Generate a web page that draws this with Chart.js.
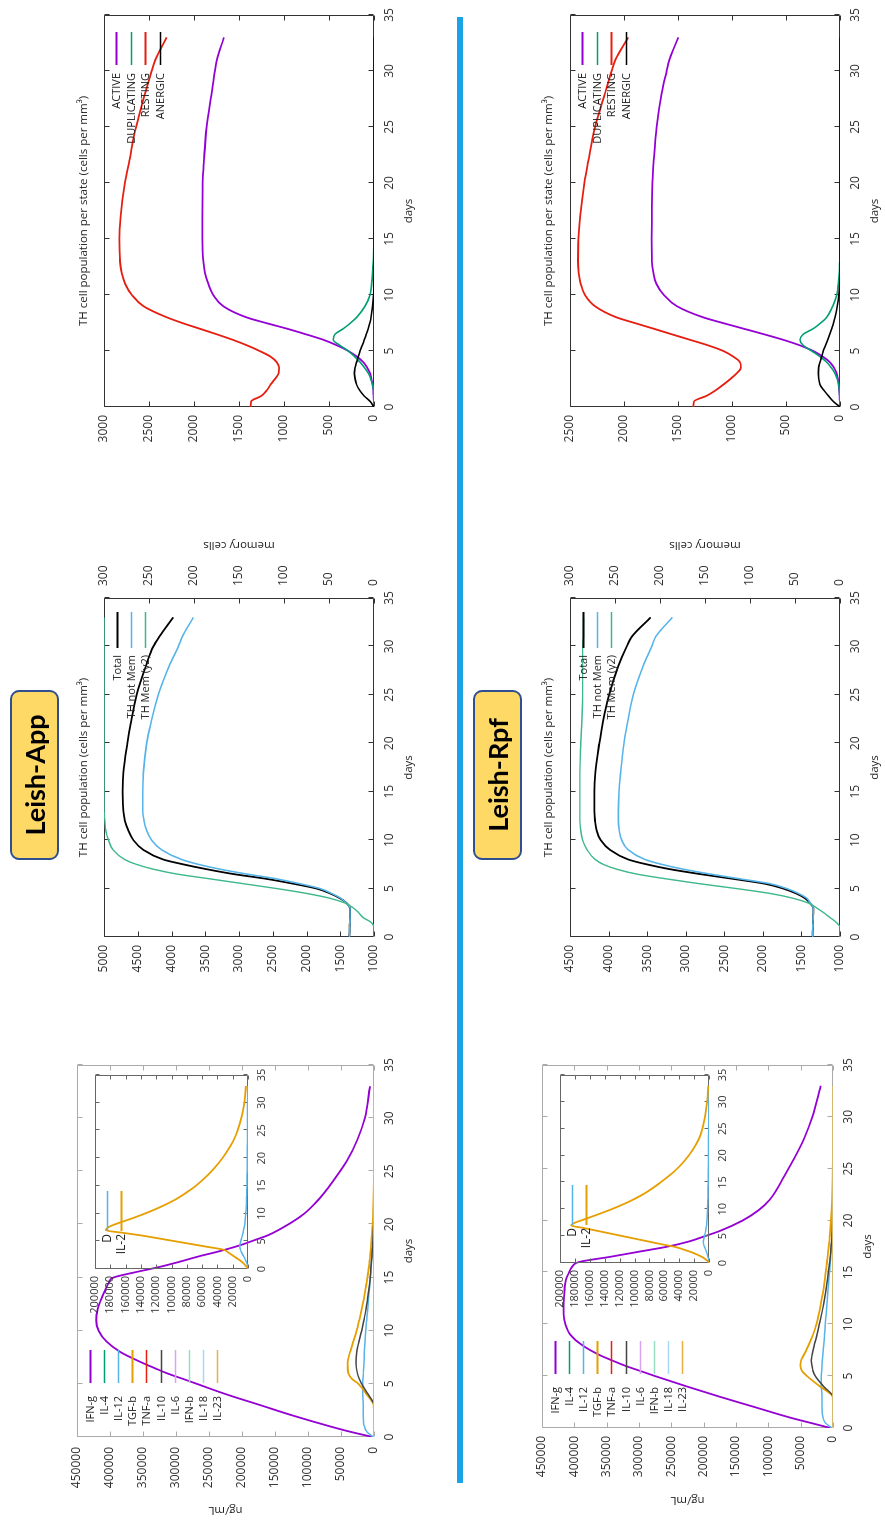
<!DOCTYPE html>
<html><head><meta charset="utf-8">
<script src="https://cdn.jsdelivr.net/npm/chart.js@4.4.1/dist/chart.umd.min.js"></script>
<style>
html,body{margin:0;padding:0;background:#fff;overflow:hidden;}
body{width:885px;height:1520px;position:relative;}
#land{position:absolute;left:0;top:0;width:1520px;height:885px;transform-origin:0 0;transform:translate(0px,1520px) rotate(-90deg);background:#fff;}
#land canvas{position:absolute;left:0;top:0;}
.tag{position:absolute;left:660px;width:166px;height:45px;background:#FFD966;border:2px solid #2F4F8F;border-radius:9px;font:bold 27px Lato, sans-serif;color:#000;display:flex;align-items:center;justify-content:center;}
#sep{position:absolute;left:37px;top:457px;width:1466px;height:6px;background:#1AA3E6;}
</style></head><body>
<div id="land">
<canvas id="cytApp" width="1520" height="885"></canvas>
<canvas id="inApp" width="1520" height="885"></canvas>
<canvas id="midApp" width="1520" height="885"></canvas>
<canvas id="stApp" width="1520" height="885"></canvas>
<canvas id="cytRpf" width="1520" height="885"></canvas>
<canvas id="inRpf" width="1520" height="885"></canvas>
<canvas id="midRpf" width="1520" height="885"></canvas>
<canvas id="stRpf" width="1520" height="885"></canvas>
<div class="tag" style="top:10px">Leish-App</div>
<div class="tag" style="top:473px">Leish-Rpf</div>
<div id="sep"></div>
</div>
<script>
// ---------- DATA ----------
const daysTH = [0,0.5,1,1.5,2,2.5,3,3.5,4,4.5,5,5.5,6,6.5,7,7.5,8,9,10,11,12,13,15,17,20,22,25,28,30,31,33];
// TH cell population per state – Leish-App
const activeApp = [0,2,5,8,15,28,44,75,118,190,285,410,563,760,970,1200,1415,1674,1785,1841,1878,1896,1907,1908,1905,1890,1859,1804,1767,1745,1667];
const duplApp   = [0,1,3,6,15,35,63,105,155,215,285,378,452,433,340,260,193,100,44,26,15,8,2,0,0,0,0,0,0,0,0];
const restApp   = [1370,1365,1250,1190,1150,1100,1060,1055,1080,1150,1270,1410,1570,1750,1940,2130,2300,2560,2690,2765,2805,2822,2830,2815,2767,2718,2644,2544,2470,2430,2304];
const anerApp   = [0,44,111,160,193,210,218,211,193,175,155,130,107,85,63,47,33,15,5,2,0,0,0,0,0,0,0,0,0,0,0];
// TH cell population per state – Leish-Rpf
const activeRpf = [0,2,4,7,12,20,31,55,93,160,247,370,525,705,895,1085,1265,1510,1630,1700,1728,1741,1744,1742,1738,1725,1698,1651,1605,1580,1497];
const duplRpf   = [0,1,3,6,12,25,46,80,123,185,262,340,370,340,247,180,123,68,31,15,6,3,0,0,0,0,0,0,0,0,0];
const restRpf   = [1358,1352,1235,1150,1080,1015,957,917,926,988,1080,1220,1389,1560,1728,1900,2068,2268,2361,2401,2420,2426,2423,2407,2367,2330,2268,2176,2114,2080,1960];
const anerRpf   = [0,62,108,150,185,196,200,198,185,170,154,134,114,95,77,60,46,25,10,3,0,0,0,0,0,0,0,0,0,0,0];
// TH cell population – Leish-App
const totalApp  = [1365,1362,1360,1358,1356,1355,1356,1405,1504,1652,1849,2195,2590,3084,3479,3825,4121,4417,4565,4639,4689,4713,4723,4713,4654,4605,4516,4378,4269,4180,3973];
const notMemApp = [1365,1362,1360,1358,1356,1355,1356,1410,1494,1630,1800,2100,2442,2886,3281,3602,3849,4146,4294,4368,4407,4427,4427,4417,4368,4308,4195,4032,3899,3840,3676];
const memApp    = [0,0,0,3,12,17,23,32,49,75,108,145,182,219,245,264,277,290,295,298,299,300,300,300,300,300,300,300,300,300,300];
// TH cell population – Leish-Rpf
const totalRpf  = [1354,1354,1352,1350,1348,1346,1346,1389,1454,1570,1735,1972,2383,2815,3204,3506,3744,3981,4102,4154,4176,4185,4185,4172,4120,4077,3994,3873,3765,3700,3454];
const notMemRpf = [1354,1354,1352,1350,1348,1346,1346,1385,1432,1540,1691,1907,2296,2685,3031,3312,3528,3744,3830,3861,3873,3873,3865,3843,3800,3757,3679,3549,3441,3390,3173];
const memRpf    = [0,0,0,4,11,18,26,35,52,78,115,156,193,226,248,263,272,281,286,288,289,289,289,289,288,287,286,286,286,285,285];
// Cytokines (ng/mL)
const daysCyt = [0,0.5,1,2,3,4,5,5.5,6,6.5,7,8,9,10,11,12,13,14,14.5,15,15.5,16,16.5,17,17.5,18,18.5,19,20,21,22,23,24,26,28,30,33];
const ifngApp = [2000,36300,66600,122000,172500,223000,268400,291000,313800,333000,351600,384400,405600,417200,420800,418700,413200,406000,402000,395000,362000,325000,294000,265000,233000,205000,182000,160000,130000,106000,89000,75000,63000,41000,25000,14000,6000];
const tgfbApp = [0,0,0,0,500,11000,23700,33800,38800,39800,39900,36300,31300,26200,22300,18700,15500,12600,11300,10000,8900,7600,6800,6000,5200,4500,3800,3200,2000,1300,800,500,300,100,0,0,0];
const il10App = [0,0,0,0,0,8600,18700,22500,25200,26700,27200,26200,22700,18700,15300,12100,9700,7600,6600,5800,5100,4500,3800,3200,2700,2000,1600,1200,500,300,0,0,0,0,0,0,0];
const il12App = [1000,11000,14600,16100,16100,17200,17200,16700,16100,15600,15100,14600,13600,12600,11100,9600,8300,7000,6400,5800,5100,4500,4000,3500,3000,2500,2000,1600,1000,600,300,100,0,0,0,0,0];
const ifngRpf = [4000,35000,66000,120100,174200,225800,274800,298000,321200,341000,359800,388200,406200,413900,416500,416500,415500,414000,412000,408000,404000,393000,345000,300000,255000,222000,198000,175000,140000,115000,98000,87000,78000,60000,44000,32000,19000];
const tgfbRpf = [0,0,0,0,500,20000,40200,47900,50500,49500,45400,37600,30900,25800,22000,18600,15800,13400,12300,11300,10300,9300,8400,7500,6600,5700,5000,4300,3100,2200,1500,1000,600,200,0,0,0];
const il10Rpf = [0,0,0,0,0,14400,27300,31000,32500,33500,32500,28900,24700,21100,17600,14400,11700,9300,8200,7200,6300,5000,4300,3600,3000,2000,1600,1200,500,300,0,0,0,0,0,0,0];
const il12Rpf = [1500,11900,15500,17000,17000,18000,18000,17500,17000,16500,16000,14400,13100,11900,10600,9300,8000,6700,6000,5400,4700,4100,3500,3000,2500,2000,1600,1200,800,400,200,100,0,0,0,0,0];
// Cytokines that stay at zero over the whole run
const daysFlat = [0,33];
const flatZero = [0,0];
// Inset: D and IL-2
const daysIn = [0,0.5,1,1.5,2,2.5,3,3.5,4,4.5,5,5.5,6,6.5,7,7.5,8,9,10,11,12,13,14,15,17,19,21,23,25,28,30,33];
const il2App = [0,2500,5600,10000,15200,20500,26000,32500,53300,74200,95000,116000,137000,162000,186000,183000,175000,154300,134800,117400,102200,89100,78300,68300,52200,39100,28300,19600,13500,7400,4800,2600];
const dApp   = [0,500,1500,3000,4500,6500,8500,10000,10900,10500,9500,8500,7500,6500,5800,5000,4400,3500,2800,2300,2000,1800,1600,1400,1200,1000,900,800,700,600,500,400];
const il2Rpf = [0,3000,7600,15000,23300,34000,45600,63900,81200,98500,115800,133100,150400,167700,185000,180000,170000,150000,131000,114000,99000,86000,75000,65000,47000,33000,22000,14000,9000,4500,2500,1000];
const dRpf   = [0,500,1200,2200,3200,4500,6000,7200,7600,7000,6000,5200,4500,4000,3500,3100,2800,2300,2000,1700,1500,1300,1200,1100,900,800,700,600,500,400,400,300];
// Tick settings
const daysTicks = {min:0, max:35, step:5};

// ---------- RENDERING ----------
const FONT = "'Open Sans', 'DejaVu Sans', sans-serif";
const W = 1520, H = 885, YW = 64, Y2W = 44, XH = 32;

function ser(label, color, xs, ys, width, axis) {
  const d = {label, borderColor: color, backgroundColor: color, borderWidth: width || 1.5,
    data: xs.map((x, i) => ({x, y: ys[i]})), pointRadius: 0, fill: false,
    cubicInterpolationMode: 'monotone'};
  if (axis) d.yAxisID = axis;
  return d;
}

function lin(min, max, step, pad, size, extra, fixed) {
  return Object.assign({
    type: 'linear', min, max,
    grid: {display: false, drawTicks: false}, border: {display: false},
    ticks: {stepSize: step, padding: pad, color: '#333', autoSkip: false, maxRotation: 0, minRotation: 0,
      font: {family: FONT, size}, callback: v => String(v)},
    afterFit: s => { if (s.isHorizontal()) s.height = fixed; else s.width = fixed; }
  }, extra || {});
}

const gp = {
  id: 'gp',
  beforeDatasetsDraw(chart, args, o) {
    const {ctx, chartArea: a} = chart;
    const L = Math.round(a.left) + 0.5, R = Math.round(a.right) - 0.5, T = Math.round(a.top) + 0.5, B = Math.round(a.bottom) - 0.5;
    ctx.save();
    ctx.strokeStyle = o.frame; ctx.lineWidth = 1;
    ctx.beginPath();
    ctx.rect(L, T, R - L, B - T);
    const tl = o.tick, xs = chart.scales.x, ys = chart.scales.y, y2 = chart.scales.y2;
    xs.ticks.forEach(t => { const p = Math.round(xs.getPixelForValue(t.value)) + 0.5;
      ctx.moveTo(p, B); ctx.lineTo(p, B - tl); ctx.moveTo(p, T); ctx.lineTo(p, T + tl); });
    ys.ticks.forEach(t => { const p = Math.round(ys.getPixelForValue(t.value)) + 0.5;
      ctx.moveTo(L, p); ctx.lineTo(L + tl, p); if (!y2) { ctx.moveTo(R, p); ctx.lineTo(R - tl, p); } });
    if (y2) y2.ticks.forEach(t => { const p = Math.round(y2.getPixelForValue(t.value)) + 0.5;
      ctx.moveTo(R, p); ctx.lineTo(R - tl, p); });
    ctx.stroke();
    ctx.restore();
  },
  afterDraw(chart, args, o) {
    const {ctx, chartArea: a} = chart;
    ctx.save();
    const cx = (a.left + a.right) / 2, cy = (a.top + a.bottom) / 2;
    ctx.fillStyle = '#222'; ctx.textBaseline = 'middle';
    const lg = o.legend;
    if (lg) {
      ctx.font = lg.size + 'px ' + FONT;
      chart.data.datasets.forEach((d, i) => {
        const y = Math.round(a.top + lg.top + i * lg.step) + 0.5;
        const base = lg.from === 'right' ? a.right : a.left;
        ctx.textAlign = 'right'; ctx.fillStyle = '#222';
        ctx.fillText(d.label, base + lg.tx, y);
        ctx.strokeStyle = d.borderColor; ctx.lineWidth = d.borderWidth;
        ctx.beginPath(); ctx.moveTo(base + lg.x1, y); ctx.lineTo(base + lg.x2, y); ctx.stroke();
      });
    }
    ctx.fillStyle = '#222'; ctx.textAlign = 'center';
    ctx.font = '11.5px ' + FONT;
    if (o.title) ctx.fillText(o.title, cx, a.top + o.titleDy);
    if (o.xTitle) ctx.fillText(o.xTitle, cx, a.bottom + 35);
    const rot = (txt, x) => { ctx.save(); ctx.translate(x, cy); ctx.rotate(-Math.PI / 2); ctx.fillText(txt, 0, 0); ctx.restore(); };
    if (o.yTitle) rot(o.yTitle, a.left + o.yTitleDx);
    if (o.y2Title) rot(o.y2Title, a.right + o.y2TitleDx);
    ctx.restore();
  }
};

function make(id, box, cfg) {
  const scales = {
    x: lin(daysTicks.min, daysTicks.max, daysTicks.step, cfg.xPad, cfg.xFont, null, XH),
    y: lin(cfg.ymin, cfg.ymax, cfg.ystep, cfg.yPad, cfg.yFont, {position: 'left'}, YW)
  };
  if (cfg.y2) scales.y2 = lin(0, 300, 50, 12, 12, {position: 'right'}, Y2W);
  const n = cfg.datasets.length;
  cfg.datasets.forEach((d, i) => { d.order = n - i; });
  new Chart(document.getElementById(id), {
    type: 'line',
    data: {datasets: cfg.datasets},
    options: {
      responsive: false, animation: false, events: [], devicePixelRatio: 1,
      layout: {padding: {left: box.l - YW, right: W - box.r - (cfg.y2 ? Y2W : 0), top: box.t, bottom: H - box.b - XH}},
      scales,
      plugins: {legend: {display: false}, tooltip: {enabled: false}, title: {display: false}, gp: cfg.gp}
    },
    plugins: [gp]
  });
}

const C = {purple:'#9400D3', green:'#009E73', blue:'#56B4E9', orange:'#E69F00', red:'#E51E10', black:'#000000'};

function cytSets(ifng, il12, tgfb, il10) {
  return [
    ser('IFN-g', C.purple, daysCyt, ifng, 1.8),
    ser('IL-4', C.green, daysFlat, flatZero),
    ser('IL-12', C.blue, daysCyt, il12),
    ser('TGF-b', C.orange, daysCyt, tgfb, 1.8),
    ser('TNF-a', C.red, daysFlat, flatZero),
    ser('IL-10', '#444444', daysCyt, il10),
    ser('IL-6', '#D9A2F2', daysFlat, flatZero),
    ser('IFN-b', '#98DCC4', daysFlat, flatZero),
    ser('IL-18', '#A8D8F5', daysFlat, flatZero),
    ser('IL-23', '#E8AE48', daysFlat, flatZero)
  ];
}
const cytLegend = {from: 'left', tx: 41, x1: 54, x2: 87, top: 13, step: 14.1, size: 11};
const inLegend = {from: 'left', tx: 35, x1: 38, x2: 78, top: 12, step: 14, size: 12};
const stLegend = {from: 'right', tx: -58, x1: -50, x2: -17, top: 12, step: 14.7, size: 11};
const midLegend = {from: 'right', tx: -57, x1: -50, x2: -14, top: 13, step: 14, size: 11};

// Leish-App row
make('cytApp', {l: 83, r: 455, t: 77, b: 374}, {ymin: 0, ymax: 450000, ystep: 50000, yPad: 10, yFont: 12, xPad: 8, xFont: 12,
  datasets: cytSets(ifngApp, il12App, tgfbApp, il10App),
  gp: {frame: '#aaaaaa', tick: 5, legend: cytLegend, xTitle: 'days', yTitle: 'ng/mL', yTitleDx: -73}});
make('inApp', {l: 251, r: 445, t: 95, b: 248}, {ymin: 0, ymax: 200000, ystep: 20000, yPad: 7, yFont: 11, xPad: 7, xFont: 11,
  datasets: [ser('D', C.blue, daysIn, dApp), ser('IL-2', C.orange, daysIn, il2App, 1.8)],
  gp: {frame: '#666666', tick: 4, legend: inLegend}});
make('midApp', {l: 583, r: 922, t: 104, b: 374}, {ymin: 1000, ymax: 5000, ystep: 500, yPad: 8, yFont: 12, xPad: 8, xFont: 12, y2: true,
  datasets: [ser('Total', C.black, daysTH, totalApp, 1.8), ser('TH not Mem', C.blue, daysTH, notMemApp, 1.6), ser('TH Mem (y2)', '#3DB88A', daysTH, memApp, 1.4, 'y2')],
  gp: {frame: '#333333', tick: 5, legend: midLegend, title: 'TH cell population (cells per mm\u00B3)', titleDy: -20, xTitle: 'days', y2Title: 'memory cells', y2TitleDx: 53}});
make('stApp', {l: 1113, r: 1505, t: 104, b: 374}, {ymin: 0, ymax: 3000, ystep: 500, yPad: 8, yFont: 12, xPad: 8, xFont: 12,
  datasets: [ser('ACTIVE', C.purple, daysTH, activeApp, 1.8), ser('DUPLICATING', C.green, daysTH, duplApp, 1.6), ser('RESTING', C.red, daysTH, restApp, 1.8), ser('ANERGIC', C.black, daysTH, anerApp, 1.6)],
  gp: {frame: '#333333', tick: 5, legend: stLegend, title: 'TH cell population per state (cells per mm\u00B3)', titleDy: -20, xTitle: 'days'}});

// Leish-Rpf row
make('cytRpf', {l: 92, r: 455, t: 542, b: 833}, {ymin: 0, ymax: 450000, ystep: 50000, yPad: 8, yFont: 12, xPad: 8, xFont: 12,
  datasets: cytSets(ifngRpf, il12Rpf, tgfbRpf, il10Rpf),
  gp: {frame: '#aaaaaa', tick: 5, legend: cytLegend, xTitle: 'days', yTitle: 'ng/mL', yTitleDx: -72}});
make('inRpf', {l: 257, r: 445, t: 560, b: 709}, {ymin: 0, ymax: 200000, ystep: 20000, yPad: 7, yFont: 11, xPad: 7, xFont: 11,
  datasets: [ser('D', C.blue, daysIn, dRpf), ser('IL-2', C.orange, daysIn, il2Rpf, 1.8)],
  gp: {frame: '#666666', tick: 4, legend: inLegend}});
make('midRpf', {l: 583, r: 922, t: 570, b: 840}, {ymin: 1000, ymax: 4500, ystep: 500, yPad: 8, yFont: 12, xPad: 8, xFont: 12, y2: true,
  datasets: [ser('Total', C.black, daysTH, totalRpf, 1.8), ser('TH not Mem', C.blue, daysTH, notMemRpf, 1.6), ser('TH Mem (y2)', '#3DB88A', daysTH, memRpf, 1.4, 'y2')],
  gp: {frame: '#333333', tick: 5, legend: midLegend, title: 'TH cell population (cells per mm\u00B3)', titleDy: -21, xTitle: 'days', y2Title: 'memory cells', y2TitleDx: 53}});
make('stRpf', {l: 1113, r: 1505, t: 570, b: 840}, {ymin: 0, ymax: 2500, ystep: 500, yPad: 8, yFont: 12, xPad: 8, xFont: 12,
  datasets: [ser('ACTIVE', C.purple, daysTH, activeRpf, 1.8), ser('DUPLICATING', C.green, daysTH, duplRpf, 1.6), ser('RESTING', C.red, daysTH, restRpf, 1.8), ser('ANERGIC', C.black, daysTH, anerRpf, 1.6)],
  gp: {frame: '#333333', tick: 5, legend: stLegend, title: 'TH cell population per state (cells per mm\u00B3)', titleDy: -21, xTitle: 'days'}});
</script>
</body></html>
